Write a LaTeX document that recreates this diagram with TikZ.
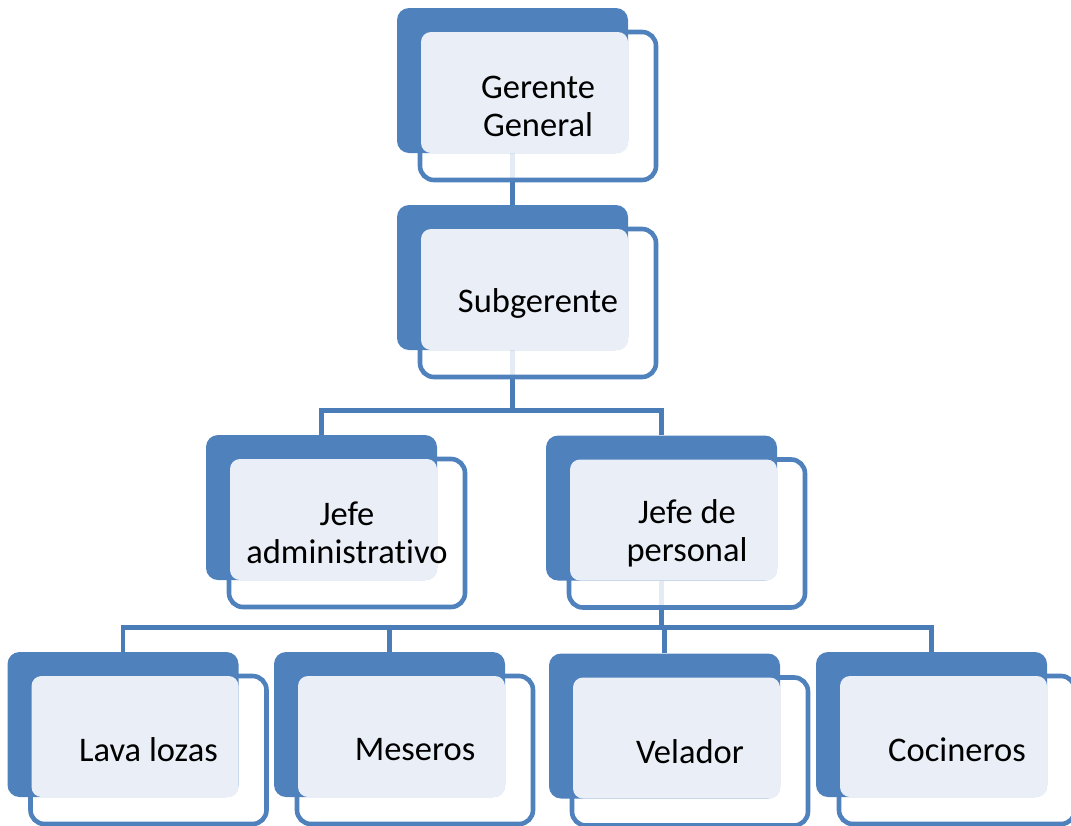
\documentclass[tikz,border=0pt]{standalone}
\usepackage{fontspec}
\setmainfont{Carlito}[RawFeature={-liga;-clig;-calt;-dlig}]
\usepackage{tikz}
\usetikzlibrary{positioning, backgrounds}
\definecolor{boxblue}{HTML}{4F81BD}
\definecolor{linkblue}{HTML}{4A7CB8}
\definecolor{boxlight}{HTML}{EAEFF7}

\begin{document}
\begin{tikzpicture}[x=1pt, y=-1pt,
			backbox/.style={fill=boxblue, draw=none, rounded corners=12pt, inner sep=0pt, minimum width=231pt, minimum height=145pt},
			frontbox/.style={fill=white, fill opacity=0.85, draw=boxblue, draw opacity=1, line width=4.6pt, rounded corners=14pt, inner sep=0pt, minimum width=236pt, minimum height=148pt},
			lightbox/.style={fill=boxlight, draw=none, rounded corners=10pt, inner sep=0pt, minimum width=207pt, minimum height=121pt},
			boxtext/.style={align=center, font=\fontsize{34.5}{38}\selectfont, inner sep=0pt},
			link/.style={draw=linkblue, line width=4.6pt}]
			
			\useasboundingbox (0,0) rectangle (1071,825);
			
			% Gerente General
			\node[frontbox] (ger-f) at (538,106) {};
			\node[backbox] (ger) at (512.5,80.5) {};
			\node[lightbox] (ger-l) at ([shift={(12,12)}]ger.center) {};
			\node[boxtext] (ger-t) at (ger-f) {Gerente\\General};
			
			% Subgerente
			\node[frontbox] (sub-f) at (538,303) {};
			\node[backbox] (sub) at (512.5,277.5) {};
			\node[lightbox] (sub-l) at ([shift={(12,12)}]sub.center) {};
			\node[boxtext] (sub-t) at (sub-f) {Subgerente};
			
			% Jefes
			\node[frontbox] (jadm-f) at (347,533) {};
			\node[backbox] (jadm) at (321.5,507.5) {};
			\node[lightbox] (jadm-l) at ([shift={(12,12)}]jadm.center) {};
			\node[boxtext] (jadm-t) at (jadm-f) {Jefe\\administrativo};
			
			\node[frontbox] (jper-f) at (687,533.5) {};
			\node[backbox] (jper) at (661.5,508) {};
			\node[lightbox] (jper-l) at ([shift={(12,12)}]jper.center) {};
			\node[boxtext] (jper-t) at (jper-f) {Jefe de\\personal};
			
			% personal
			\node[frontbox] (lava-f) at (148.5,750) {};
			\node[backbox] (lava) at (123,724.5) {};
			\node[lightbox] (lava-l) at ([shift={(12,12)}]lava.center) {};
			\node[boxtext] (lava-t) at (lava-f) {Lava lozas};
			
			\node[frontbox] (mes-f) at (415,750) {};
			\node[backbox] (mes) at (389.5,724.5) {};
			\node[lightbox] (mes-l) at ([shift={(12,12)}]mes.center) {};
			\node[boxtext] (mes-t) at (mes-f) {Meseros};
			
			\node[frontbox] (vel-f) at (690,751.5) {};
			\node[backbox] (vel) at (664.5,726) {};
			\node[lightbox] (vel-l) at ([shift={(12,12)}]vel.center) {};
			\node[boxtext] (vel-t) at (vel-f) {Velador};
			
			\node[frontbox] (coc-f) at (957,750) {};
			\node[backbox] (coc) at (931.5,724.5) {};
			\node[lightbox] (coc-l) at ([shift={(12,12)}]coc.center) {};
			\node[boxtext] (coc-t) at (coc-f) {Cocineros};
			
			\begin{pgfonlayer}{background}
			\draw[link] (ger.south) -- (sub.north);
			\draw[link] (sub.south) -- ++(0,60) coordinate (sub-j) -| (jadm.north);
			\draw[link] (sub-j) -| (jper.north);
			\draw[link] (jper.south) -- ++(0,47) coordinate (jper-j);
			\draw[link] (jper-j) -| (lava.north);
			\draw[link] (jper-j) -| (mes.north);
			\draw[link] (jper-j) -| (vel.north);
			\draw[link] (jper-j) -| (coc.north);
			\end{pgfonlayer}
		\end{tikzpicture}
\end{document}
